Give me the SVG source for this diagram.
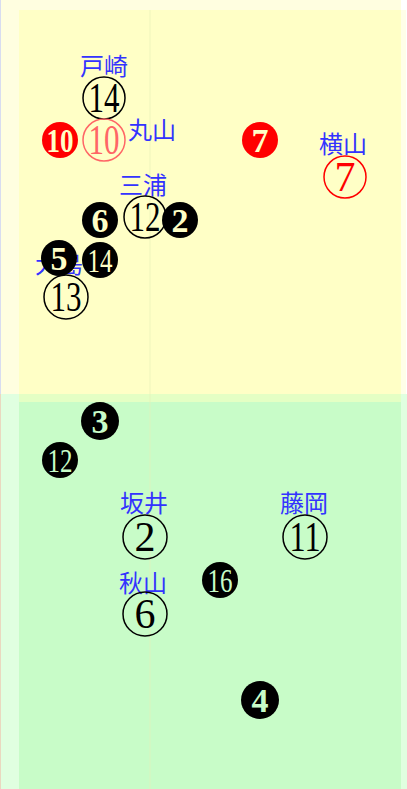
<svg xmlns="http://www.w3.org/2000/svg" width="407" height="789" viewBox="0 0 407 789">
<style>
.lbl{font-family:"Noto Sans CJK JP","Noto Sans CJK SC",sans-serif;font-size:24px;fill:#3333ff;text-anchor:middle}
.open{fill:none;stroke:#000;stroke-width:1.5}
.on{font-family:"Liberation Serif","DejaVu Serif",serif;font-size:42px;fill:#000;text-anchor:middle}
.fill{fill:#000}
.fn{font-family:"Liberation Serif","DejaVu Serif",serif;font-size:34px;font-weight:bold;text-anchor:middle}
.fy{fill:#ffffc6}
.fg{fill:#c8fcc8}
</style>
<g id="background">
<rect x="0" y="0" width="407" height="789" fill="#ffffff"/>
<rect x="0" y="0" width="401" height="394" fill="#fffee0"/>
<rect x="401" y="10" width="5" height="384" fill="#fffee8"/>
<rect x="0" y="394" width="407" height="395" fill="#e0ffe0"/>
<rect x="19" y="10" width="382" height="392" fill="#ffffc6"/>
<rect x="19" y="394" width="382" height="8" fill="#e4ffc4"/>
<rect x="19" y="402" width="382" height="387" fill="#c8fcc8"/>
<line x1="150" y1="10" x2="150" y2="789" stroke="#e6f0b8" stroke-width="1" opacity="0.6"/>
<line x1="0.5" y1="0" x2="0.5" y2="394" stroke="#d8dcf0" stroke-width="1"/>
<line x1="0.5" y1="394" x2="0.5" y2="789" stroke="#ead8c0" stroke-width="1"/>
</g>
<g id="connectors"/>
<g id="tosaki">
<text class="lbl" x="104" y="75">戸崎</text>
<circle class="open" cx="104" cy="98" r="21"/>
<text class="on" x="104" y="112" textLength="31" lengthAdjust="spacingAndGlyphs">14</text>
</g>
<g id="red10">
<circle cx="60" cy="140" r="18" fill="#ff0000"/>
<text class="fn fy" x="60" y="152" textLength="27" lengthAdjust="spacingAndGlyphs">10</text>
</g>
<g id="maruyama">
<circle cx="104" cy="140" r="21" fill="none" stroke="#ff6666" stroke-width="1.5"/>
<text class="on" x="104" y="154" textLength="31" lengthAdjust="spacingAndGlyphs" style="fill:#ff6666">10</text>
<text class="lbl" x="152" y="139">丸山</text>
</g>
<g id="red7">
<circle cx="260" cy="140" r="18" fill="#ff0000"/>
<text class="fn fy" x="260" y="152">7</text>
</g>
<g id="yokoyama">
<text class="lbl" x="343" y="153">横山</text>
<circle cx="345" cy="177" r="21" fill="none" stroke="#ff0000" stroke-width="1.5"/>
<text class="on" x="345" y="191" style="fill:#ff0000">7</text>
</g>
<g id="black6">
<circle class="fill" cx="100" cy="220" r="18"/>
<text class="fn fy" x="100" y="232">6</text>
</g>
<g id="miura">
<text class="lbl" x="143" y="194">三浦</text>
<circle class="open" cx="145" cy="217" r="21"/>
<text class="on" x="145" y="231" textLength="31" lengthAdjust="spacingAndGlyphs">12</text>
</g>
<g id="black2">
<circle class="fill" cx="180" cy="220" r="18"/>
<text class="fn fy" x="180" y="232">2</text>
</g>
<g id="player13">
<text class="lbl" x="59" y="273">大島</text>
<circle class="open" cx="66" cy="297" r="22"/>
<text class="on" x="66" y="311" textLength="31" lengthAdjust="spacingAndGlyphs">13</text>
</g>
<g id="black5">
<circle class="fill" cx="59" cy="258" r="18"/>
<text class="fn fy" x="59" y="270">5</text>
</g>
<g id="black14">
<circle class="fill" cx="100" cy="260" r="18"/>
<text class="fn fy" x="100" y="272" textLength="25" lengthAdjust="spacingAndGlyphs" style="font-weight:normal">14</text>
</g>
<g id="black3">
<circle class="fill" cx="100" cy="421" r="19"/>
<text class="fn fg" x="100" y="433">3</text>
</g>
<g id="black12">
<circle class="fill" cx="60" cy="460" r="18"/>
<text class="fn fg" x="60" y="472" textLength="25" lengthAdjust="spacingAndGlyphs" style="font-weight:normal">12</text>
</g>
<g id="sakai">
<text class="lbl" x="144" y="512">坂井</text>
<circle class="open" cx="145" cy="537" r="22"/>
<text class="on" x="145" y="551">2</text>
</g>
<g id="fujioka">
<text class="lbl" x="304" y="512">藤岡</text>
<circle class="open" cx="305" cy="537" r="22"/>
<text class="on" x="305" y="551" textLength="31" lengthAdjust="spacingAndGlyphs">11</text>
</g>
<g id="black16">
<circle class="fill" cx="220" cy="580" r="18"/>
<text class="fn fg" x="220" y="592" textLength="25" lengthAdjust="spacingAndGlyphs" style="font-weight:normal">16</text>
</g>
<g id="akiyama">
<text class="lbl" x="143" y="592">秋山</text>
<circle class="open" cx="145" cy="614" r="22"/>
<text class="on" x="145" y="628">6</text>
</g>
<g id="black4">
<circle class="fill" cx="260" cy="700" r="19"/>
<text class="fn fg" x="260" y="712">4</text>
</g>
</svg>
